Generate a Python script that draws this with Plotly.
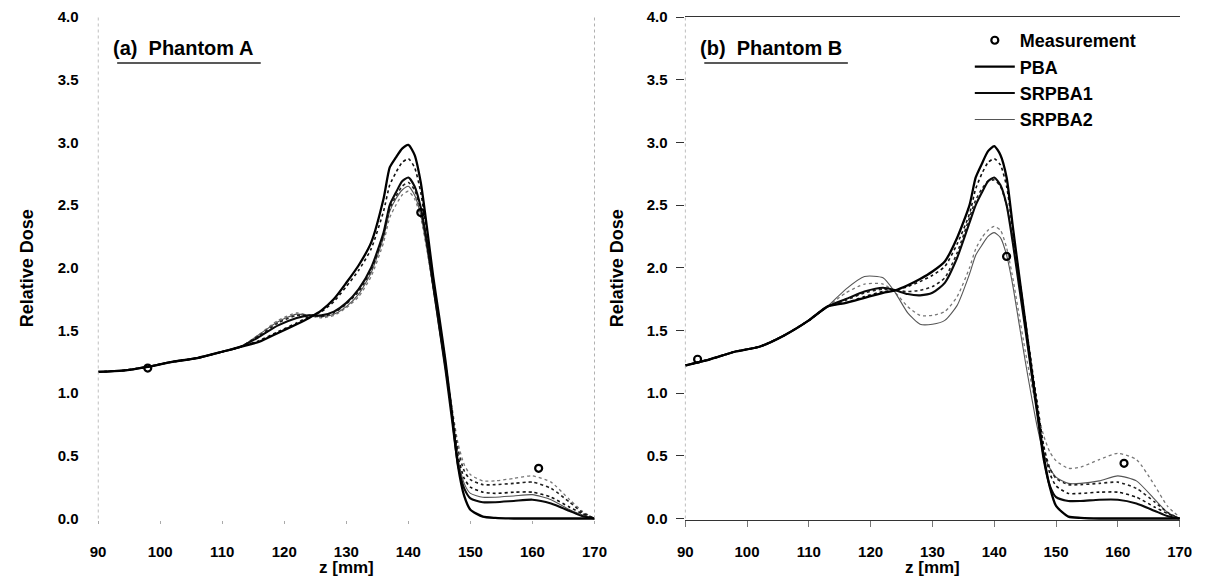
import plotly.graph_objects as go

# ---------------- data ----------------
z = [90, 94, 98, 102, 106, 110, 113, 116, 119, 122, 124, 126, 128, 130, 132, 134, 136,
     137, 138, 139, 140, 141, 142, 143, 144, 145, 146, 147, 148, 149, 150,
     152, 154, 157, 160, 163, 166, 168, 170]

# Phantom A
pba_a = [1.17, 1.18, 1.21, 1.25, 1.28, 1.33, 1.37, 1.41, 1.48, 1.55, 1.60, 1.66, 1.75, 1.88, 2.02, 2.20, 2.55,
         2.80, 2.88, 2.95, 2.98, 2.90, 2.68, 2.32, 1.93, 1.60, 1.25, 0.85, 0.42, 0.18, 0.07,
         0.015, 0.005, 0.0, 0.0, 0.0, 0.0, 0.0, 0.0]
pba_dot_a = [1.17, 1.18, 1.21, 1.25, 1.28, 1.33, 1.37, 1.42, 1.49, 1.56, 1.61, 1.65, 1.73, 1.85, 1.98, 2.15, 2.45,
             2.66, 2.76, 2.84, 2.87, 2.80, 2.60, 2.27, 1.90, 1.57, 1.24, 0.86, 0.50, 0.32, 0.25,
             0.21, 0.20, 0.21, 0.21, 0.17, 0.09, 0.04, 0.0]
srpba1_a = [1.17, 1.18, 1.21, 1.25, 1.28, 1.33, 1.37, 1.45, 1.54, 1.60, 1.62, 1.62, 1.65, 1.72, 1.83, 2.00, 2.28,
            2.50, 2.60, 2.69, 2.72, 2.65, 2.48, 2.20, 1.86, 1.52, 1.18, 0.80, 0.43, 0.24, 0.16,
            0.13, 0.13, 0.14, 0.15, 0.12, 0.06, 0.02, 0.0]
srpba1_dot_a = [1.17, 1.18, 1.21, 1.25, 1.28, 1.33, 1.37, 1.46, 1.56, 1.62, 1.62, 1.61, 1.64, 1.71, 1.81, 1.98, 2.26,
                2.47, 2.57, 2.65, 2.68, 2.62, 2.46, 2.19, 1.86, 1.53, 1.20, 0.86, 0.55, 0.38, 0.31,
                0.27, 0.27, 0.28, 0.29, 0.24, 0.13, 0.05, 0.0]
srpba2_a = [1.17, 1.18, 1.21, 1.25, 1.28, 1.33, 1.37, 1.47, 1.57, 1.63, 1.62, 1.61, 1.63, 1.69, 1.79, 1.96, 2.24,
            2.45, 2.55, 2.62, 2.65, 2.58, 2.42, 2.15, 1.83, 1.50, 1.18, 0.83, 0.48, 0.28, 0.20,
            0.17, 0.17, 0.18, 0.19, 0.15, 0.07, 0.03, 0.0]
srpba2_dot_a = [1.17, 1.18, 1.21, 1.25, 1.28, 1.33, 1.37, 1.47, 1.58, 1.64, 1.62, 1.60, 1.62, 1.68, 1.77, 1.93, 2.20,
                2.40, 2.50, 2.58, 2.61, 2.55, 2.40, 2.14, 1.84, 1.53, 1.22, 0.90, 0.60, 0.43, 0.35,
                0.30, 0.30, 0.32, 0.34, 0.29, 0.15, 0.06, 0.0]
meas_z_a = [98, 142, 161]
meas_d_a = [1.20, 2.44, 0.40]

# Phantom B
pba_b = [1.22, 1.27, 1.33, 1.37, 1.46, 1.58, 1.69, 1.72, 1.76, 1.80, 1.82, 1.86, 1.91, 1.97, 2.05, 2.24, 2.50,
         2.72, 2.83, 2.93, 2.97, 2.90, 2.72, 2.33, 1.95, 1.58, 1.20, 0.85, 0.50, 0.25, 0.10,
         0.015, 0.005, 0.0, 0.0, 0.0, 0.0, 0.0, 0.0]
pba_dot_b = [1.22, 1.27, 1.33, 1.37, 1.46, 1.58, 1.69, 1.72, 1.77, 1.81, 1.82, 1.85, 1.89, 1.94, 2.01, 2.19, 2.43,
             2.63, 2.75, 2.84, 2.87, 2.82, 2.65, 2.30, 1.94, 1.59, 1.24, 0.90, 0.57, 0.36, 0.26,
             0.20, 0.20, 0.21, 0.21, 0.17, 0.09, 0.04, 0.0]
srpba1_b = [1.22, 1.27, 1.33, 1.37, 1.46, 1.58, 1.69, 1.75, 1.81, 1.84, 1.82, 1.79, 1.78, 1.80, 1.88, 2.08, 2.36,
            2.50, 2.60, 2.69, 2.72, 2.66, 2.50, 2.20, 1.86, 1.52, 1.17, 0.82, 0.47, 0.26, 0.17,
            0.14, 0.14, 0.15, 0.15, 0.12, 0.06, 0.02, 0.0]
srpba1_dot_b = [1.22, 1.27, 1.33, 1.37, 1.46, 1.58, 1.69, 1.74, 1.80, 1.83, 1.82, 1.81, 1.82, 1.85, 1.92, 2.12, 2.40,
                2.54, 2.63, 2.69, 2.70, 2.65, 2.50, 2.22, 1.89, 1.56, 1.22, 0.90, 0.58, 0.40, 0.32,
                0.27, 0.27, 0.28, 0.29, 0.24, 0.13, 0.05, 0.0]
srpba2_b = [1.22, 1.27, 1.33, 1.37, 1.46, 1.58, 1.69, 1.83, 1.93, 1.92, 1.80, 1.64, 1.55, 1.55, 1.58, 1.70, 1.95,
            2.10, 2.18, 2.25, 2.28, 2.24, 2.10, 1.86, 1.56, 1.26, 0.98, 0.72, 0.52, 0.40, 0.33,
            0.28, 0.28, 0.30, 0.34, 0.30, 0.15, 0.05, 0.0]
srpba2_dot_b = [1.22, 1.27, 1.33, 1.37, 1.46, 1.58, 1.69, 1.80, 1.87, 1.87, 1.80, 1.69, 1.62, 1.62, 1.65, 1.77, 2.00,
                2.15, 2.24, 2.30, 2.33, 2.30, 2.16, 1.92, 1.63, 1.34, 1.08, 0.85, 0.66, 0.53, 0.46,
                0.40, 0.41, 0.47, 0.52, 0.47, 0.26, 0.10, 0.01]
meas_z_b = [92, 142, 161]
meas_d_b = [1.27, 2.09, 0.44]

x_ticks = [90, 100, 110, 120, 130, 140, 150, 160, 170]
y_ticks = [0.0, 0.5, 1.0, 1.5, 2.0, 2.5, 3.0, 3.5, 4.0]
y_tick_text = ["0.0", "0.5", "1.0", "1.5", "2.0", "2.5", "3.0", "3.5", "4.0"]

# ---------------- figure ----------------
FONT = "Liberation Sans, Arial, sans-serif"
fig = go.Figure()

styles = {
    "PBA": dict(color="#000000", width=2.3),
    "PBA_dot": dict(color="#111111", width=1.6, dash="dot"),
    "SRPBA1": dict(color="#0a0a0a", width=2.1),
    "SRPBA1_dot": dict(color="#222222", width=1.6, dash="dot"),
    "SRPBA2": dict(color="#555555", width=1.1),
    "SRPBA2_dot": dict(color="#777777", width=1.3, dash="dot"),
}

panels = [
    ("x", "y", [("PBA", pba_a), ("PBA_dot", pba_dot_a), ("SRPBA1", srpba1_a),
                ("SRPBA1_dot", srpba1_dot_a), ("SRPBA2", srpba2_a), ("SRPBA2_dot", srpba2_dot_a)],
     meas_z_a, meas_d_a, False),
    ("x2", "y2", [("PBA", pba_b), ("PBA_dot", pba_dot_b), ("SRPBA1", srpba1_b),
                  ("SRPBA1_dot", srpba1_dot_b), ("SRPBA2", srpba2_b), ("SRPBA2_dot", srpba2_dot_b)],
     meas_z_b, meas_d_b, True),
]

rank = {"PBA": 2, "SRPBA1": 3, "SRPBA2": 4}
for xa, ya, series, mz, md, show in panels:
    for name, vals in reversed(series):
        fig.add_trace(go.Scatter(
            x=z, y=vals, xaxis=xa, yaxis=ya, mode="lines",
            line=dict(shape="spline", smoothing=0.6, **styles[name]),
            name=name, showlegend=show and name in rank,
            legendrank=rank.get(name, 10), hoverinfo="skip"))
    fig.add_trace(go.Scatter(
        x=mz, y=md, xaxis=xa, yaxis=ya, mode="markers",
        marker=dict(symbol="circle-open", size=7, color="black", line=dict(width=2.2)),
        name="Measurement", showlegend=show, legendrank=1, hoverinfo="skip"))

tickfont = dict(family=FONT, size=15, color="black", weight="bold")
common_x = dict(range=[89.9, 170.1], tickvals=x_ticks, ticktext=[str(v) for v in x_ticks],
                tickfont=tickfont, showgrid=False, zeroline=False)
common_y = dict(range=[-0.012, 4.0], tickvals=y_ticks, ticktext=y_tick_text,
                tickfont=tickfont, showgrid=False, zeroline=False)

fig.update_layout(
    width=1208, height=578,
    margin=dict(l=0, r=0, t=17, b=58),
    paper_bgcolor="white", plot_bgcolor="white",
    xaxis=dict(domain=[91 / 1208, 597 / 1208], anchor="y", ticks="outside", ticklen=3,
               tickcolor="#aaaaaa", showline=False, ticklabelstandoff=15, **common_x),
    yaxis=dict(domain=[0, 1], anchor="x", ticks="", showline=False,
               ticklabelstandoff=18, **common_y),
    xaxis2=dict(domain=[688 / 1208, 1192 / 1208], anchor="y2", ticks="outside", ticklen=6,
                tickcolor="#777777", showline=True, linecolor="#333333", linewidth=1,
                mirror=True, ticklabelstandoff=12, **common_x),
    yaxis2=dict(domain=[0, 1], anchor="x2", ticks="outside", ticklen=8, tickcolor="#333333",
                showline=False, ticklabelstandoff=5, **common_y),
    legend=dict(x=978 / 1208, y=0.99, xanchor="left", yanchor="top",
                font=dict(family=FONT, size=18, color="black", weight="bold"),
                bgcolor="rgba(0,0,0,0)", tracegroupgap=0, itemwidth=40,
                traceorder="normal"),
    showlegend=True,
)

# dotted frame lines
for xr, yr, xv in [("x", "y", 90), ("x", "y", 170), ("x2", "y2", 90)]:
    fig.add_shape(type="line", xref=xr, yref=yr, x0=xv, x1=xv, y0=0, y1=4,
                  line=dict(color="#b0b0b0", width=1, dash="dot"))

# axis titles
for xc in [19 / 1208, 619 / 1208]:
    fig.add_annotation(text="Relative Dose", xref="paper", yref="paper", x=xc, y=0.5,
                       xanchor="center", yanchor="middle",
                       textangle=-90, showarrow=False,
                       font=dict(family=FONT, size=18, color="black", weight="bold"))
for xr in ["x", "x2"]:
    fig.add_annotation(text="z [mm]", xref=xr, yref="paper", x=130, y=(520 - 568) / 503,
                       xanchor="center", yanchor="middle", showarrow=False,
                       font=dict(family=FONT, size=17, color="black", weight="bold"))

# panel labels
for label, xs0, xs1 in [("(a)  Phantom A", 111, 257), ("(b)  Phantom B", 708, 854)]:
    fig.add_annotation(text=label, xref="paper", yref="paper", x=(xs0 - 6) / 1208,
                       y=(578 - 58 - 48) / 503,
                       xanchor="left", yanchor="middle", showarrow=False,
                       font=dict(family=FONT, size=20, color="black", weight="bold"))
    fig.add_shape(type="line", xref="paper", yref="paper", x0=xs0 / 1208, x1=xs1 / 1208,
                  y0=(578 - 58 - 63) / 503, y1=(578 - 58 - 63) / 503,
                  line=dict(color="#222222", width=1.5))

fig.write_html("out.html")
